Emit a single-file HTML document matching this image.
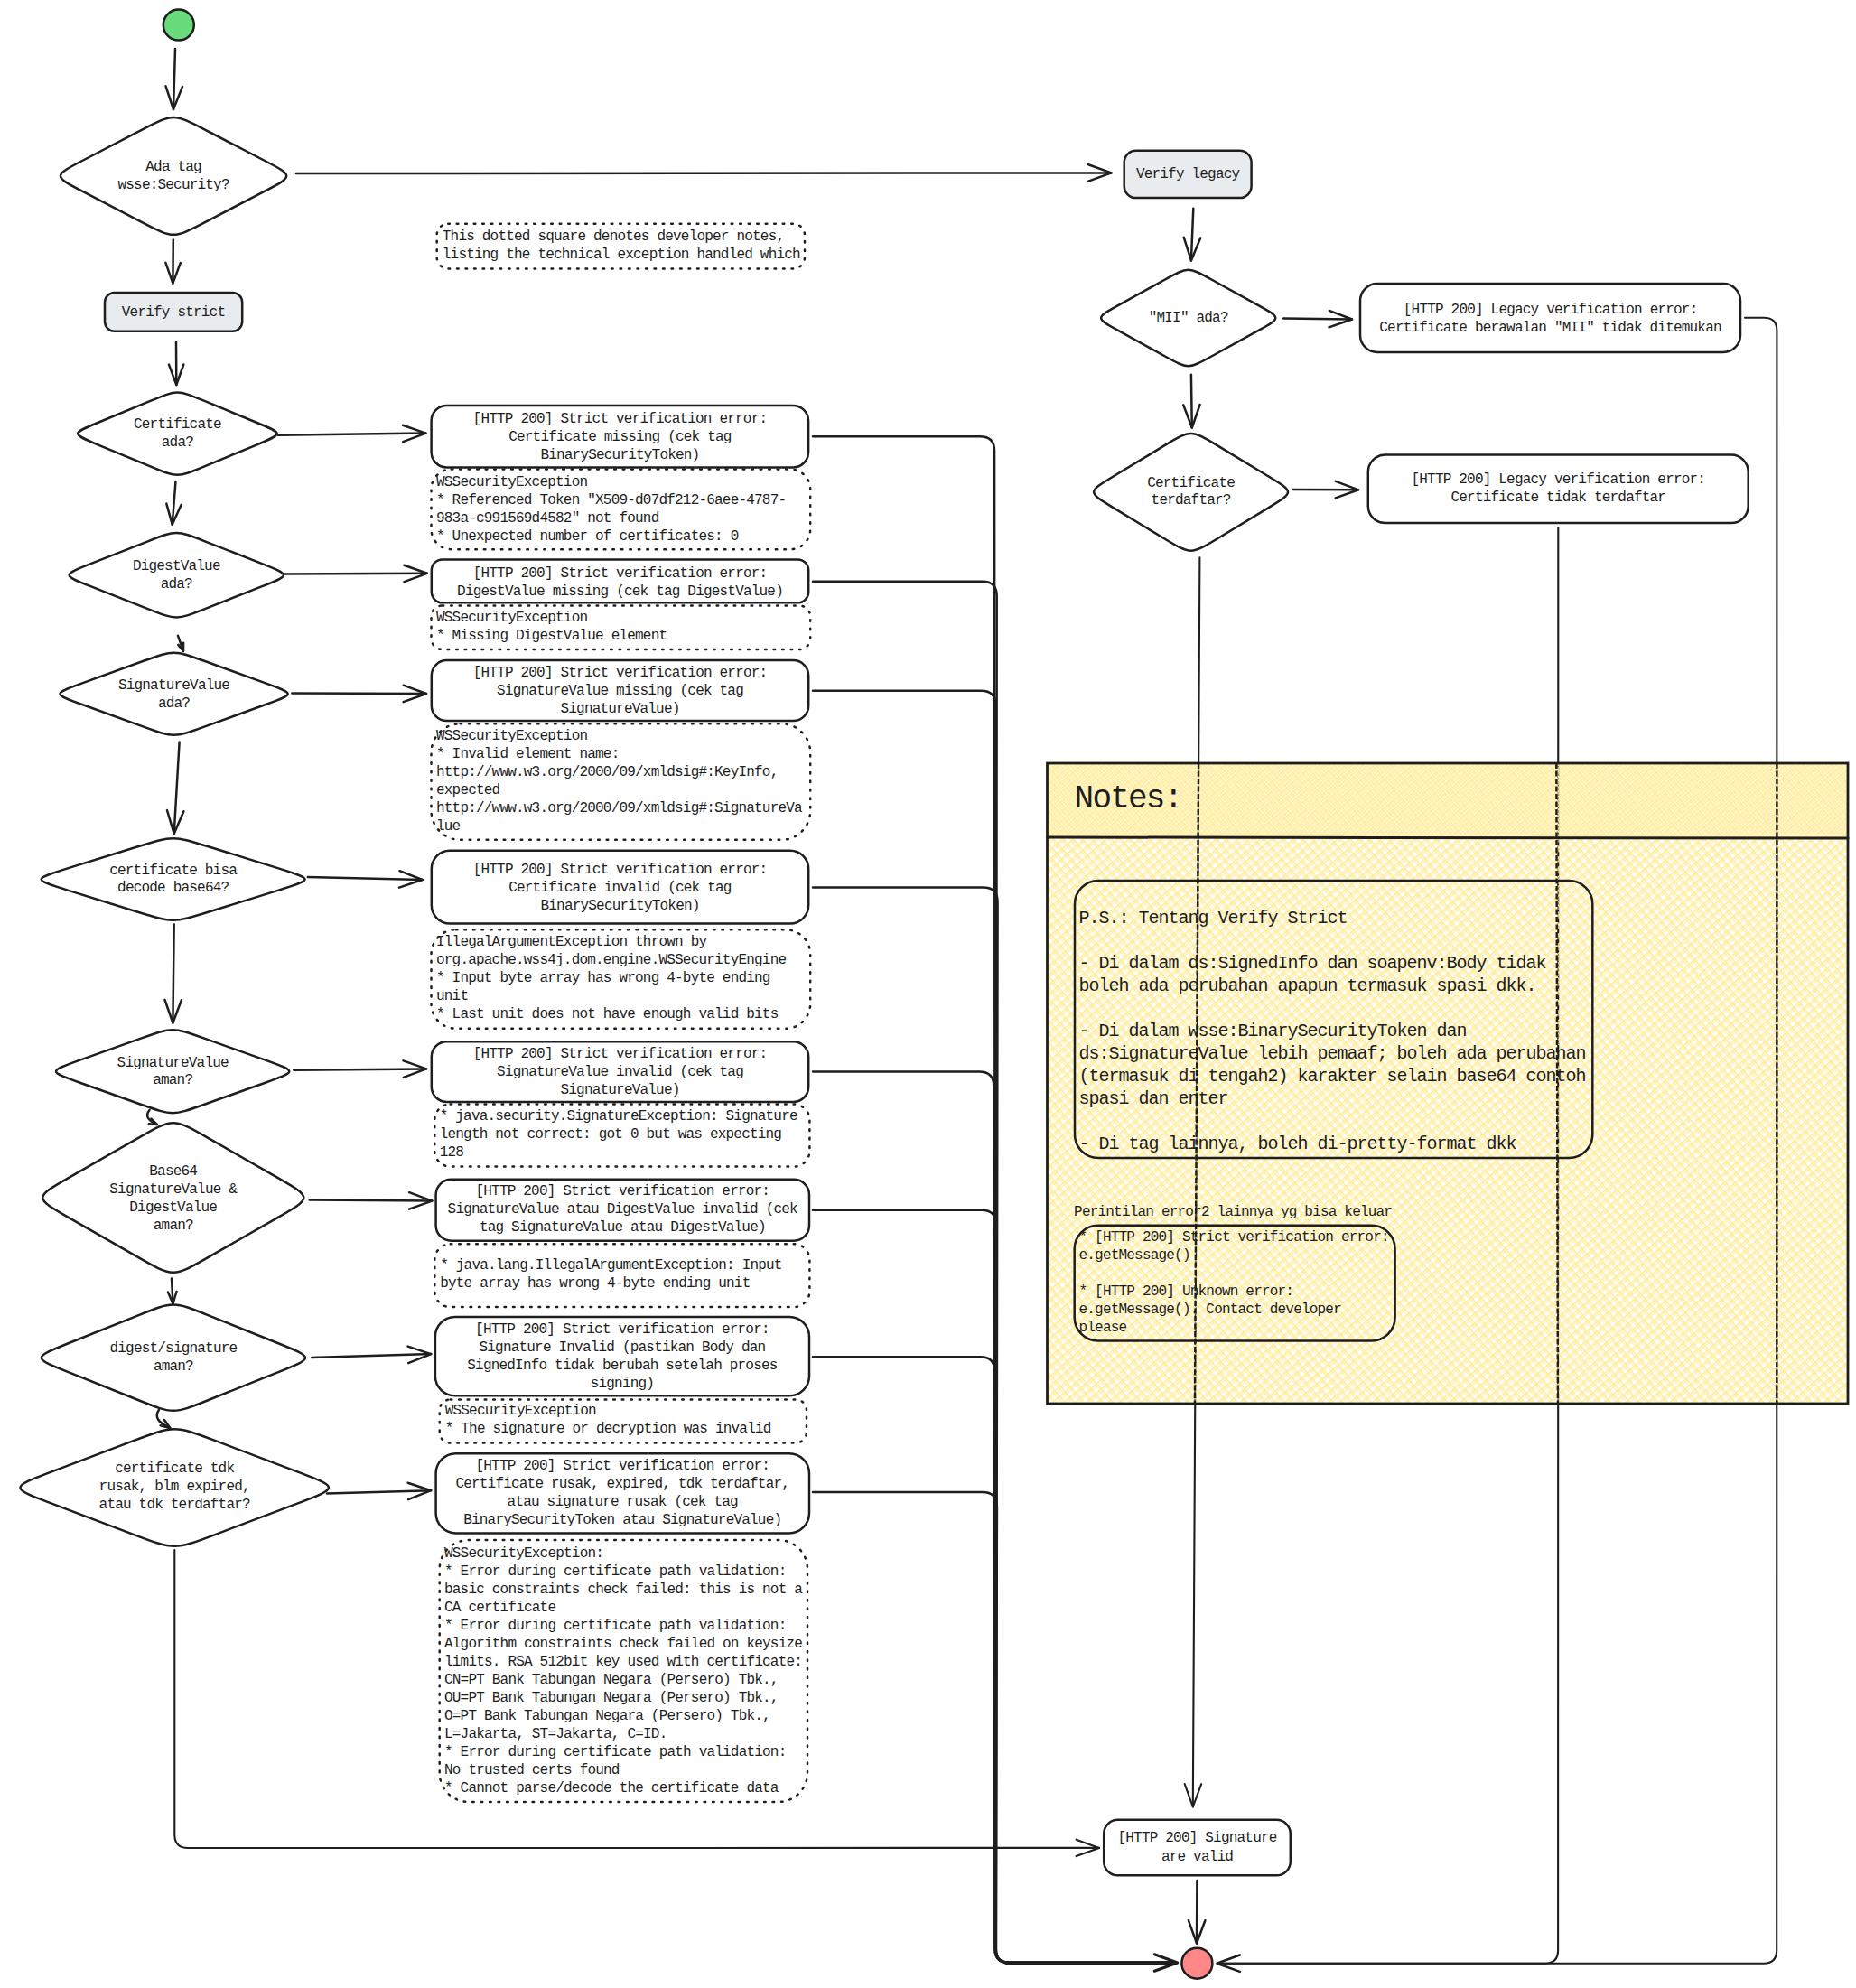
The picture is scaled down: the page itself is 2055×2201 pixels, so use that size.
<!DOCTYPE html>
<html><head><meta charset="utf-8"><style>
html,body{margin:0;padding:0;background:#fff;}
svg{display:block;}
text{font-family:"Liberation Mono", monospace;fill:#1e1e1e;white-space:pre;}
</style></head><body>
<svg width="2055" height="2201" viewBox="0 0 2055 2201">
<rect x="0" y="0" width="2055" height="2201" fill="#ffffff"/>
<defs>
<pattern id="hA" patternUnits="userSpaceOnUse" width="8" height="8" patternTransform="rotate(-41)"><rect x="0" y="0" width="8" height="1.5" fill="#ffec99"/><rect x="0" y="2.6" width="8" height="1.0" fill="#ffec99"/></pattern>
<pattern id="hB" patternUnits="userSpaceOnUse" width="8" height="8" patternTransform="rotate(49)"><rect x="0" y="0" width="8" height="1.5" fill="#ffec99"/><rect x="0" y="2.6" width="8" height="1.0" fill="#ffec99"/></pattern>
<pattern id="hC" patternUnits="userSpaceOnUse" width="8" height="8" patternTransform="rotate(-41) translate(0 5)"><rect x="0" y="0" width="8" height="1.3" fill="#ffec99"/></pattern>
<pattern id="hD" patternUnits="userSpaceOnUse" width="8" height="8" patternTransform="rotate(49) translate(0 5)"><rect x="0" y="0" width="8" height="1.3" fill="#ffec99"/></pattern>
</defs>
<path d="M1328.4 617.4 L1320.8 2000.5" fill="none" stroke="#1e1e1e" stroke-width="2.1" stroke-linecap="round" stroke-linejoin="round" />
<path d="M1330.2 1975.2 L1320.8 2000.5 L1311.7 1975.1" fill="none" stroke="#1e1e1e" stroke-width="2.1" stroke-linecap="round" stroke-linejoin="round" />
<path d="M1932 351.8 L1953 351.8 Q1967.4 351.8 1967.4 366 L1967.2 2159 Q1967.2 2173.7 1953 2173.7 L1348 2173.7" fill="none" stroke="#1e1e1e" stroke-width="2.1" stroke-linecap="round" stroke-linejoin="round" />
<path d="M1725.3 584 L1725.1 2159 Q1725.1 2173.7 1711 2173.7 L1348 2173.7" fill="none" stroke="#1e1e1e" stroke-width="2.1" stroke-linecap="round" stroke-linejoin="round" />
<path d="M1372.8 2182.9 L1347.4 2173.7 L1372.8 2164.5" fill="none" stroke="#1e1e1e" stroke-width="2.5" stroke-linecap="round" stroke-linejoin="round" />
<rect x="1159.5" y="845" width="886.5" height="709" fill="url(#hA)"/>
<rect x="1159.5" y="845" width="886.5" height="709" fill="url(#hB)"/>
<rect x="1159.5" y="845" width="886.5" height="82" fill="url(#hC)"/>
<rect x="1159.5" y="845" width="886.5" height="82" fill="url(#hD)"/>
<path d="M1327.1 845 L1322.9 1554" stroke="#1e1e1e" stroke-width="2.4" stroke-dasharray="6 2.5" fill="none"/>
<path d="M1723.3 845 L1724.9 1554" stroke="#1e1e1e" stroke-width="2.4" stroke-dasharray="6 2.5" fill="none"/>
<path d="M1967.4 845 L1967.3 1554" stroke="#1e1e1e" stroke-width="2.4" stroke-dasharray="6 2.5" fill="none"/>
<rect x="1159.5" y="845" width="886.5" height="709" fill="none" stroke="#1e1e1e" stroke-width="2.8"/>
<path d="M1159.5 927 L2046 928" fill="none" stroke="#1e1e1e" stroke-width="3" stroke-linecap="round" stroke-linejoin="round" />
<text x="1189.6" y="894.4" font-size="36" letter-spacing="-1.80">Notes:</text>
<rect x="1190.0" y="975.1" width="573.3" height="306.9" rx="26.0" fill="none" stroke="#1e1e1e" stroke-width="2.5" />
<text x="1194.5" y="1021.5" font-size="20" letter-spacing="-1.00">P.S.: Tentang Verify Strict</text>
<text x="1194.5" y="1071.5" font-size="20" letter-spacing="-1.00">- Di dalam ds:SignedInfo dan soapenv:Body tidak</text>
<text x="1194.5" y="1096.5" font-size="20" letter-spacing="-1.00">boleh ada perubahan apapun termasuk spasi dkk.</text>
<text x="1194.5" y="1146.5" font-size="20" letter-spacing="-1.00">- Di dalam wsse:BinarySecurityToken dan</text>
<text x="1194.5" y="1171.5" font-size="20" letter-spacing="-1.00">ds:SignatureValue lebih pemaaf; boleh ada perubahan</text>
<text x="1194.5" y="1196.5" font-size="20" letter-spacing="-1.00">(termasuk di tengah2) karakter selain base64 contoh</text>
<text x="1194.5" y="1221.5" font-size="20" letter-spacing="-1.00">spasi dan enter</text>
<text x="1194.5" y="1271.5" font-size="20" letter-spacing="-1.00">- Di tag lainnya, boleh di-pretty-format dkk</text>
<text x="1189.1" y="1345.7" font-size="16" letter-spacing="-0.80">Perintilan error2 lainnya yg bisa keluar</text>
<rect x="1189.7" y="1356.8" width="354.9" height="127.7" rx="26.0" fill="none" stroke="#1e1e1e" stroke-width="2.5" />
<text x="1194.5" y="1374.4" font-size="16" letter-spacing="-0.80">* [HTTP 200] Strict verification error:</text>
<text x="1194.5" y="1394.4" font-size="16" letter-spacing="-0.80">e.getMessage()</text>
<text x="1194.5" y="1434.4" font-size="16" letter-spacing="-0.80">* [HTTP 200] Unknown error:</text>
<text x="1194.5" y="1454.4" font-size="16" letter-spacing="-0.80">e.getMessage(). Contact developer</text>
<text x="1194.5" y="1474.4" font-size="16" letter-spacing="-0.80">please</text>
<circle cx="197.8" cy="27.6" r="17" fill="#69db7c" stroke="#1e1e1e" stroke-width="2.5"/>
<circle cx="1325.4" cy="2173.7" r="17" fill="#ff8787" stroke="#1e1e1e" stroke-width="2.5"/>
<path d="M194.0 54.0 L192.0 121.0" fill="none" stroke="#1e1e1e" stroke-width="2.5" stroke-linecap="round" stroke-linejoin="round" />
<path d="M202.0 95.9 L192.0 121.0 L183.5 95.4" fill="none" stroke="#1e1e1e" stroke-width="2.5" stroke-linecap="round" stroke-linejoin="round" />
<path d="M327.9 192.0 L1230.5 191.4" fill="none" stroke="#1e1e1e" stroke-width="2.5" stroke-linecap="round" stroke-linejoin="round" />
<path d="M1205.1 182.2 L1230.5 191.4 L1205.1 200.7" fill="none" stroke="#1e1e1e" stroke-width="2.5" stroke-linecap="round" stroke-linejoin="round" />
<path d="M191.8 265.5 L191.4 313.6" fill="none" stroke="#1e1e1e" stroke-width="2.5" stroke-linecap="round" stroke-linejoin="round" />
<path d="M199.8 291.1 L191.4 313.6 L183.4 290.9" fill="none" stroke="#1e1e1e" stroke-width="2.5" stroke-linecap="round" stroke-linejoin="round" />
<path d="M195.0 378.2 L195.3 426.0" fill="none" stroke="#1e1e1e" stroke-width="2.5" stroke-linecap="round" stroke-linejoin="round" />
<path d="M203.3 403.5 L195.3 426.0 L187.0 403.6" fill="none" stroke="#1e1e1e" stroke-width="2.5" stroke-linecap="round" stroke-linejoin="round" />
<path d="M308.0 481.8 L471.4 479.6" fill="none" stroke="#1e1e1e" stroke-width="2.5" stroke-linecap="round" stroke-linejoin="round" />
<path d="M445.9 470.7 L471.4 479.6 L446.2 489.2" fill="none" stroke="#1e1e1e" stroke-width="2.5" stroke-linecap="round" stroke-linejoin="round" />
<path d="M194.5 533.0 L190.7 580.7" fill="none" stroke="#1e1e1e" stroke-width="2.5" stroke-linecap="round" stroke-linejoin="round" />
<path d="M200.6 558.9 L190.7 580.7 L184.3 557.6" fill="none" stroke="#1e1e1e" stroke-width="2.5" stroke-linecap="round" stroke-linejoin="round" />
<path d="M315.0 635.4 L472.8 634.8" fill="none" stroke="#1e1e1e" stroke-width="2.5" stroke-linecap="round" stroke-linejoin="round" />
<path d="M447.4 625.7 L472.8 634.8 L447.5 644.1" fill="none" stroke="#1e1e1e" stroke-width="2.5" stroke-linecap="round" stroke-linejoin="round" />
<path d="M197.0 703.8 L203.0 720.9" fill="none" stroke="#1e1e1e" stroke-width="2.5" stroke-linecap="round" stroke-linejoin="round" />
<path d="M203.1 711.8 L203.0 720.9 L197.3 713.9" fill="none" stroke="#1e1e1e" stroke-width="2.5" stroke-linecap="round" stroke-linejoin="round" />
<path d="M323.3 767.4 L472.0 768.0" fill="none" stroke="#1e1e1e" stroke-width="2.5" stroke-linecap="round" stroke-linejoin="round" />
<path d="M446.7 758.7 L472.0 768.0 L446.6 777.1" fill="none" stroke="#1e1e1e" stroke-width="2.5" stroke-linecap="round" stroke-linejoin="round" />
<path d="M198.6 821.5 L192.7 923.0" fill="none" stroke="#1e1e1e" stroke-width="2.5" stroke-linecap="round" stroke-linejoin="round" />
<path d="M203.4 898.2 L192.7 923.0 L185.0 897.1" fill="none" stroke="#1e1e1e" stroke-width="2.5" stroke-linecap="round" stroke-linejoin="round" />
<path d="M340.8 971.0 L467.6 974.0" fill="none" stroke="#1e1e1e" stroke-width="2.5" stroke-linecap="round" stroke-linejoin="round" />
<path d="M442.5 964.2 L467.6 974.0 L442.0 982.6" fill="none" stroke="#1e1e1e" stroke-width="2.5" stroke-linecap="round" stroke-linejoin="round" />
<path d="M192.7 1023.4 L191.4 1132.5" fill="none" stroke="#1e1e1e" stroke-width="2.5" stroke-linecap="round" stroke-linejoin="round" />
<path d="M200.9 1107.2 L191.4 1132.5 L182.5 1107.0" fill="none" stroke="#1e1e1e" stroke-width="2.5" stroke-linecap="round" stroke-linejoin="round" />
<path d="M325.3 1184.7 L472.0 1183.4" fill="none" stroke="#1e1e1e" stroke-width="2.5" stroke-linecap="round" stroke-linejoin="round" />
<path d="M446.5 1174.4 L472.0 1183.4 L446.7 1192.9" fill="none" stroke="#1e1e1e" stroke-width="2.5" stroke-linecap="round" stroke-linejoin="round" />
<path d="M165.5 1229 Q158 1238 173.8 1245" fill="none" stroke="#1e1e1e" stroke-width="2.5" stroke-linecap="round" stroke-linejoin="round" />
<path d="M167.4 1238.7 L173.8 1245.0 L164.8 1244.3" fill="none" stroke="#1e1e1e" stroke-width="2.5" stroke-linecap="round" stroke-linejoin="round" />
<path d="M342.7 1328.5 L478.4 1329.6" fill="none" stroke="#1e1e1e" stroke-width="2.5" stroke-linecap="round" stroke-linejoin="round" />
<path d="M453.1 1320.2 L478.4 1329.6 L453.0 1338.6" fill="none" stroke="#1e1e1e" stroke-width="2.5" stroke-linecap="round" stroke-linejoin="round" />
<path d="M190.0 1415.6 L191.4 1443.3" fill="none" stroke="#1e1e1e" stroke-width="2.5" stroke-linecap="round" stroke-linejoin="round" />
<path d="M195.5 1430.0 L191.4 1443.3 L186.0 1430.5" fill="none" stroke="#1e1e1e" stroke-width="2.5" stroke-linecap="round" stroke-linejoin="round" />
<path d="M345.3 1503.0 L477.2 1499.1" fill="none" stroke="#1e1e1e" stroke-width="2.5" stroke-linecap="round" stroke-linejoin="round" />
<path d="M451.6 1490.6 L477.2 1499.1 L452.1 1509.1" fill="none" stroke="#1e1e1e" stroke-width="2.5" stroke-linecap="round" stroke-linejoin="round" />
<path d="M175.9 1561 Q168 1572 188.3 1581" fill="none" stroke="#1e1e1e" stroke-width="2.5" stroke-linecap="round" stroke-linejoin="round" />
<path d="M181.9 1572.1 L188.3 1581.0 L177.6 1578.3" fill="none" stroke="#1e1e1e" stroke-width="2.5" stroke-linecap="round" stroke-linejoin="round" />
<path d="M362.0 1653.5 L477.2 1650.2" fill="none" stroke="#1e1e1e" stroke-width="2.5" stroke-linecap="round" stroke-linejoin="round" />
<path d="M451.6 1641.7 L477.2 1650.2 L452.1 1660.2" fill="none" stroke="#1e1e1e" stroke-width="2.5" stroke-linecap="round" stroke-linejoin="round" />
<path d="M193.3 1716 L193.3 2031 Q193.3 2046 208 2046 L1217 2045.9" fill="none" stroke="#1e1e1e" stroke-width="2.1" stroke-linecap="round" stroke-linejoin="round" />
<path d="M1191.6 2036.7 L1217.0 2045.9 L1191.6 2055.1" fill="none" stroke="#1e1e1e" stroke-width="2.1" stroke-linecap="round" stroke-linejoin="round" />
<path d="M1321.3 230.8 L1318.9 288.4" fill="none" stroke="#1e1e1e" stroke-width="2.5" stroke-linecap="round" stroke-linejoin="round" />
<path d="M1329.2 263.4 L1318.9 288.4 L1310.7 262.7" fill="none" stroke="#1e1e1e" stroke-width="2.5" stroke-linecap="round" stroke-linejoin="round" />
<path d="M1421.2 352.5 L1497.0 353.5" fill="none" stroke="#1e1e1e" stroke-width="2.5" stroke-linecap="round" stroke-linejoin="round" />
<path d="M1471.8 343.9 L1497.0 353.5 L1471.5 362.4" fill="none" stroke="#1e1e1e" stroke-width="2.5" stroke-linecap="round" stroke-linejoin="round" />
<path d="M1318.9 414.8 L1319.8 473.5" fill="none" stroke="#1e1e1e" stroke-width="2.5" stroke-linecap="round" stroke-linejoin="round" />
<path d="M1328.6 448.0 L1319.8 473.5 L1310.2 448.3" fill="none" stroke="#1e1e1e" stroke-width="2.5" stroke-linecap="round" stroke-linejoin="round" />
<path d="M1431.8 541.9 L1504.1 542.3" fill="none" stroke="#1e1e1e" stroke-width="2.5" stroke-linecap="round" stroke-linejoin="round" />
<path d="M1478.8 532.9 L1504.1 542.3 L1478.7 551.4" fill="none" stroke="#1e1e1e" stroke-width="2.5" stroke-linecap="round" stroke-linejoin="round" />
<path d="M1325.4 2081.9 L1325.0 2151.5" fill="none" stroke="#1e1e1e" stroke-width="2.5" stroke-linecap="round" stroke-linejoin="round" />
<path d="M1334.4 2126.2 L1325.0 2151.5 L1315.9 2126.1" fill="none" stroke="#1e1e1e" stroke-width="2.5" stroke-linecap="round" stroke-linejoin="round" />
<path d="M900 483.3 L1085.1 483.3 Q1101.1 483.3 1101.1 499.3 L1101.7 2158 Q1101.7 2172.6 1116.7 2172.6 L1302 2172.6" fill="none" stroke="#1e1e1e" stroke-width="2.5" stroke-linecap="round" stroke-linejoin="round" />
<path d="M900 643.7 L1087.7 643.7 Q1103.7 643.7 1103.7 659.7 L1102.7 2158 Q1102.7 2173.4 1117.7 2173.4 L1302 2173.4" fill="none" stroke="#1e1e1e" stroke-width="2.5" stroke-linecap="round" stroke-linejoin="round" />
<path d="M900 764.8 L1086.4 764.8 Q1102.4 764.8 1102.4 780.8 L1102.2 2158 Q1102.2 2173.0 1117.2 2173.0 L1302 2173.0" fill="none" stroke="#1e1e1e" stroke-width="2.5" stroke-linecap="round" stroke-linejoin="round" />
<path d="M900 982.5 L1088.6 982.5 Q1104.6 982.5 1104.6 998.5 L1103.0 2158 Q1103.0 2173.7 1118.0 2173.7 L1302 2173.7" fill="none" stroke="#1e1e1e" stroke-width="2.5" stroke-linecap="round" stroke-linejoin="round" />
<path d="M900 1186.6 L1084.3 1186.6 Q1100.3 1186.6 1100.3 1202.6 L1101.5 2158 Q1101.5 2172.4 1116.5 2172.4 L1302 2172.4" fill="none" stroke="#1e1e1e" stroke-width="2.5" stroke-linecap="round" stroke-linejoin="round" />
<path d="M900 1339.7 L1086.9 1339.7 Q1102.9 1339.7 1102.9 1355.7 L1102.4 2158 Q1102.4 2173.2 1117.4 2173.2 L1302 2173.2" fill="none" stroke="#1e1e1e" stroke-width="2.5" stroke-linecap="round" stroke-linejoin="round" />
<path d="M900 1502.2 L1085.4 1502.2 Q1101.4 1502.2 1101.4 1518.2 L1101.9 2158 Q1101.9 2172.7 1116.9 2172.7 L1302 2172.7" fill="none" stroke="#1e1e1e" stroke-width="2.5" stroke-linecap="round" stroke-linejoin="round" />
<path d="M900 1652.1 L1087.9 1652.1 Q1103.9 1652.1 1103.9 1668.1 L1102.7 2158 Q1102.7 2173.4 1117.7 2173.4 L1302 2173.4" fill="none" stroke="#1e1e1e" stroke-width="2.5" stroke-linecap="round" stroke-linejoin="round" />
<path d="M1278.3 2163.8 L1303.7 2173.0 L1278.3 2182.2" fill="none" stroke="#1e1e1e" stroke-width="3.2" stroke-linecap="round" stroke-linejoin="round" />
<path d="M225.5 142.9 L292.2 177.5 C325.6 194.8 325.6 194.8 292.2 212.2 L225.5 246.8 C192.1 264.1 192.1 264.1 158.7 246.8 L92.0 212.2 C58.6 194.8 58.6 194.8 92.0 177.5 L158.7 142.9 C192.1 125.6 192.1 125.6 225.5 142.9 Z" fill="none" stroke="#1e1e1e" stroke-width="2.5" stroke-linejoin="round"/>
<text x="161.3" y="189.0" font-size="16" letter-spacing="-0.80">Ada tag</text>
<text x="130.5" y="209.0" font-size="16" letter-spacing="-0.80">wsse:Security?</text>
<path d="M225.8 443.7 L284.6 468.0 C314.0 480.1 314.0 480.1 284.6 492.3 L225.8 516.6 C196.4 528.8 196.4 528.8 167.0 516.6 L108.2 492.3 C78.8 480.1 78.8 480.1 108.2 468.0 L167.0 443.7 C196.4 431.5 196.4 431.5 225.8 443.7 Z" fill="none" stroke="#1e1e1e" stroke-width="2.5" stroke-linejoin="round"/>
<text x="148.0" y="473.7" font-size="16" letter-spacing="-0.80">Certificate</text>
<text x="178.8" y="493.9" font-size="16" letter-spacing="-0.80">ada?</text>
<path d="M226.9 599.3 L290.2 624.2 C321.9 636.7 321.9 636.7 290.2 649.2 L226.9 674.1 C195.3 686.6 195.3 686.6 163.7 674.1 L100.4 649.2 C68.7 636.7 68.7 636.7 100.4 624.2 L163.7 599.3 C195.3 586.8 195.3 586.8 226.9 599.3 Z" fill="none" stroke="#1e1e1e" stroke-width="2.5" stroke-linejoin="round"/>
<text x="146.9" y="630.8" font-size="16" letter-spacing="-0.80">DigestValue</text>
<text x="177.7" y="651.0" font-size="16" letter-spacing="-0.80">ada?</text>
<path d="M226.2 731.8 L293.4 756.1 C327.1 768.2 327.1 768.2 293.4 780.3 L226.2 804.6 C192.5 816.8 192.5 816.8 158.9 804.6 L91.7 780.3 C58.0 768.2 58.0 768.2 91.7 756.1 L158.9 731.8 C192.5 719.6 192.5 719.6 226.2 731.8 Z" fill="none" stroke="#1e1e1e" stroke-width="2.5" stroke-linejoin="round"/>
<text x="130.9" y="762.8" font-size="16" letter-spacing="-0.80">SignatureValue</text>
<text x="174.9" y="782.7" font-size="16" letter-spacing="-0.80">ada?</text>
<path d="M230.6 937.3 L308.4 961.4 C347.3 973.5 347.3 973.5 308.4 985.6 L230.6 1009.7 C191.7 1021.8 191.7 1021.8 152.7 1009.7 L74.9 985.6 C36.0 973.5 36.0 973.5 74.9 961.4 L152.7 937.3 C191.7 925.2 191.7 925.2 230.6 937.3 Z" fill="none" stroke="#1e1e1e" stroke-width="2.5" stroke-linejoin="round"/>
<text x="121.2" y="967.6" font-size="16" letter-spacing="-0.80">certificate bisa</text>
<text x="130.1" y="987.2" font-size="16" letter-spacing="-0.80">decode base64?</text>
<path d="M225.6 1149.4 L294.4 1173.9 C328.9 1186.2 328.9 1186.2 294.4 1198.5 L225.6 1223.0 C191.2 1235.2 191.2 1235.2 156.7 1223.0 L87.9 1198.5 C53.4 1186.2 53.4 1186.2 87.9 1173.9 L156.7 1149.4 C191.2 1137.2 191.2 1137.2 225.6 1149.4 Z" fill="none" stroke="#1e1e1e" stroke-width="2.5" stroke-linejoin="round"/>
<text x="129.6" y="1180.9" font-size="16" letter-spacing="-0.80">SignatureValue</text>
<text x="169.2" y="1200.3" font-size="16" letter-spacing="-0.80">aman?</text>
<path d="M230.3 1259.8 L307.4 1303.9 C345.9 1326.0 345.9 1326.0 307.4 1348.1 L230.3 1392.2 C191.8 1414.3 191.8 1414.3 153.2 1392.2 L76.2 1348.1 C37.6 1326.0 37.6 1326.0 76.2 1303.9 L153.2 1259.8 C191.8 1237.7 191.8 1237.7 230.3 1259.8 Z" fill="none" stroke="#1e1e1e" stroke-width="2.5" stroke-linejoin="round"/>
<text x="165.3" y="1300.6" font-size="16" letter-spacing="-0.80">Base64</text>
<text x="121.3" y="1320.5" font-size="16" letter-spacing="-0.80">SignatureValue &amp;</text>
<text x="143.3" y="1340.7" font-size="16" letter-spacing="-0.80">DigestValue</text>
<text x="169.8" y="1360.5" font-size="16" letter-spacing="-0.80">aman?</text>
<path d="M230.9 1456.3 L308.8 1487.5 C347.8 1503.2 347.8 1503.2 308.8 1518.8 L230.9 1550.0 C191.9 1565.7 191.9 1565.7 152.9 1550.0 L75.0 1518.8 C36.0 1503.2 36.0 1503.2 75.0 1487.5 L152.9 1456.3 C191.9 1440.6 191.9 1440.6 230.9 1456.3 Z" fill="none" stroke="#1e1e1e" stroke-width="2.5" stroke-linejoin="round"/>
<text x="121.5" y="1496.5" font-size="16" letter-spacing="-0.80">digest/signature</text>
<text x="169.9" y="1516.5" font-size="16" letter-spacing="-0.80">aman?</text>
<path d="M238.7 1595.2 L329.8 1629.7 C375.3 1647.0 375.3 1647.0 329.8 1664.3 L238.7 1698.8 C193.2 1716.1 193.2 1716.1 147.7 1698.8 L56.6 1664.3 C11.1 1647.0 11.1 1647.0 56.6 1629.7 L147.7 1595.2 C193.2 1577.9 193.2 1577.9 238.7 1595.2 Z" fill="none" stroke="#1e1e1e" stroke-width="2.5" stroke-linejoin="round"/>
<text x="127.2" y="1630.2" font-size="16" letter-spacing="-0.80">certificate tdk</text>
<text x="109.6" y="1650.2" font-size="16" letter-spacing="-0.80">rusak, blm expired,</text>
<text x="109.6" y="1670.2" font-size="16" letter-spacing="-0.80">atau tdk terdaftar?</text>
<path d="M1341.4 309.5 L1392.9 337.8 C1418.7 352.0 1418.7 352.0 1392.9 366.2 L1341.4 394.5 C1315.7 408.7 1315.7 408.7 1290.0 394.5 L1238.5 366.2 C1212.7 352.0 1212.7 352.0 1238.5 337.8 L1290.0 309.5 C1315.7 295.3 1315.7 295.3 1341.4 309.5 Z" fill="none" stroke="#1e1e1e" stroke-width="2.5" stroke-linejoin="round"/>
<text x="1271.7" y="355.8" font-size="16" letter-spacing="-0.80">"MII" ada?</text>
<path d="M1347.3 492.9 L1404.6 527.5 C1433.2 544.8 1433.2 544.8 1404.6 562.1 L1347.3 596.7 C1318.6 614.0 1318.6 614.0 1289.9 596.7 L1232.6 562.1 C1204.0 544.8 1204.0 544.8 1232.6 527.5 L1289.9 492.9 C1318.6 475.6 1318.6 475.6 1347.3 492.9 Z" fill="none" stroke="#1e1e1e" stroke-width="2.5" stroke-linejoin="round"/>
<text x="1270.2" y="538.7" font-size="16" letter-spacing="-0.80">Certificate</text>
<text x="1274.6" y="558.4" font-size="16" letter-spacing="-0.80">terdaftar?</text>
<rect x="116.0" y="323.9" width="152.2" height="42.9" rx="10.7" fill="#e9ecef" stroke="#1e1e1e" stroke-width="2.5" />
<text x="134.8" y="350.2" font-size="16" letter-spacing="-0.80">Verify strict</text>
<rect x="1244.7" y="166.8" width="140.9" height="52.3" rx="13.1" fill="#e9ecef" stroke="#1e1e1e" stroke-width="2.5" />
<text x="1257.9" y="196.9" font-size="16" letter-spacing="-0.80">Verify legacy</text>
<rect x="477.6" y="448.9" width="417.5" height="68.6" rx="17.1" fill="none" stroke="#1e1e1e" stroke-width="2.5" />
<text x="523.6" y="467.9" font-size="16" letter-spacing="-0.80">[HTTP 200] Strict verification error:</text>
<text x="563.2" y="488.0" font-size="16" letter-spacing="-0.80">Certificate missing (cek tag</text>
<text x="598.4" y="508.0" font-size="16" letter-spacing="-0.80">BinarySecurityToken)</text>
<rect x="477.8" y="619.4" width="417.4" height="47.9" rx="12.0" fill="none" stroke="#1e1e1e" stroke-width="2.5" />
<text x="523.7" y="638.7" font-size="16" letter-spacing="-0.80">[HTTP 200] Strict verification error:</text>
<text x="506.1" y="658.8" font-size="16" letter-spacing="-0.80">DigestValue missing (cek tag DigestValue)</text>
<rect x="477.8" y="731.1" width="417.4" height="67.0" rx="16.8" fill="none" stroke="#1e1e1e" stroke-width="2.5" />
<text x="523.7" y="749.0" font-size="16" letter-spacing="-0.80">[HTTP 200] Strict verification error:</text>
<text x="550.1" y="769.1" font-size="16" letter-spacing="-0.80">SignatureValue missing (cek tag</text>
<text x="620.5" y="789.0" font-size="16" letter-spacing="-0.80">SignatureValue)</text>
<rect x="477.8" y="941.8" width="417.4" height="80.7" rx="20.2" fill="none" stroke="#1e1e1e" stroke-width="2.5" />
<text x="523.7" y="966.7" font-size="16" letter-spacing="-0.80">[HTTP 200] Strict verification error:</text>
<text x="563.2" y="986.8" font-size="16" letter-spacing="-0.80">Certificate invalid (cek tag</text>
<text x="598.5" y="1006.7" font-size="16" letter-spacing="-0.80">BinarySecurityToken)</text>
<rect x="477.8" y="1153.3" width="417.4" height="66.6" rx="16.7" fill="none" stroke="#1e1e1e" stroke-width="2.5" />
<text x="523.7" y="1170.8" font-size="16" letter-spacing="-0.80">[HTTP 200] Strict verification error:</text>
<text x="550.1" y="1191.0" font-size="16" letter-spacing="-0.80">SignatureValue invalid (cek tag</text>
<text x="620.5" y="1210.8" font-size="16" letter-spacing="-0.80">SignatureValue)</text>
<rect x="482.6" y="1305.8" width="413.4" height="67.9" rx="17.0" fill="none" stroke="#1e1e1e" stroke-width="2.5" />
<text x="526.5" y="1323.2" font-size="16" letter-spacing="-0.80">[HTTP 200] Strict verification error:</text>
<text x="495.6" y="1343.3" font-size="16" letter-spacing="-0.80">SignatureValue atau DigestValue invalid (cek</text>
<text x="530.9" y="1363.2" font-size="16" letter-spacing="-0.80">tag SignatureValue atau DigestValue)</text>
<rect x="481.9" y="1458.0" width="414.1" height="87.2" rx="21.8" fill="none" stroke="#1e1e1e" stroke-width="2.5" />
<text x="526.1" y="1476.0" font-size="16" letter-spacing="-0.80">[HTTP 200] Strict verification error:</text>
<text x="530.5" y="1496.1" font-size="16" letter-spacing="-0.80">Signature Invalid (pastikan Body dan</text>
<text x="517.3" y="1516.0" font-size="16" letter-spacing="-0.80">SignedInfo tidak berubah setelah proses</text>
<text x="653.7" y="1536.1" font-size="16" letter-spacing="-0.80">signing)</text>
<rect x="482.6" y="1609.2" width="413.4" height="88.2" rx="22.1" fill="none" stroke="#1e1e1e" stroke-width="2.5" />
<text x="526.5" y="1626.7" font-size="16" letter-spacing="-0.80">[HTTP 200] Strict verification error:</text>
<text x="504.4" y="1646.6" font-size="16" letter-spacing="-0.80">Certificate rusak, expired, tdk terdaftar,</text>
<text x="561.6" y="1666.7" font-size="16" letter-spacing="-0.80">atau signature rusak (cek tag</text>
<text x="513.2" y="1686.6" font-size="16" letter-spacing="-0.80">BinarySecurityToken atau SignatureValue)</text>
<rect x="1506.0" y="314.1" width="421.0" height="75.9" rx="19.0" fill="none" stroke="#1e1e1e" stroke-width="2.5" />
<text x="1553.8" y="346.5" font-size="16" letter-spacing="-0.80">[HTTP 200] Legacy verification error:</text>
<text x="1527.3" y="366.5" font-size="16" letter-spacing="-0.80">Certificate berawalan "MII" tidak ditemukan</text>
<rect x="1514.8" y="503.6" width="420.9" height="75.5" rx="18.9" fill="none" stroke="#1e1e1e" stroke-width="2.5" />
<text x="1562.5" y="534.5" font-size="16" letter-spacing="-0.80">[HTTP 200] Legacy verification error:</text>
<text x="1606.5" y="554.6" font-size="16" letter-spacing="-0.80">Certificate tidak terdaftar</text>
<rect x="1222.2" y="2014.8" width="206.6" height="61.5" rx="15.4" fill="none" stroke="#1e1e1e" stroke-width="2.5" />
<text x="1237.5" y="2039.4" font-size="16" letter-spacing="-0.80">[HTTP 200] Signature</text>
<text x="1285.9" y="2059.5" font-size="16" letter-spacing="-0.80">are valid</text>
<rect x="483.7" y="247.7" width="407.3" height="49.8" rx="12.5" fill="none" stroke="#1e1e1e" stroke-width="2.5" stroke-dasharray="1.6 7.9" stroke-linecap="round"/>
<text x="489.8" y="265.7" font-size="16" letter-spacing="-0.80">This dotted square denotes developer notes,</text>
<text x="489.8" y="285.7" font-size="16" letter-spacing="-0.80">listing the technical exception handled which</text>
<rect x="477.5" y="519.5" width="419.7" height="88.7" rx="22.2" fill="none" stroke="#1e1e1e" stroke-width="2.5" stroke-dasharray="1.6 7.9" stroke-linecap="round"/>
<text x="483.0" y="538.1" font-size="16" letter-spacing="-0.80">WSSecurityException</text>
<text x="483.0" y="558.1" font-size="16" letter-spacing="-0.80">* Referenced Token "X509-d07df212-6aee-4787-</text>
<text x="483.0" y="578.1" font-size="16" letter-spacing="-0.80">983a-c991569d4582" not found</text>
<text x="483.0" y="598.1" font-size="16" letter-spacing="-0.80">* Unexpected number of certificates: 0</text>
<rect x="477.5" y="670.5" width="419.7" height="48.5" rx="12.1" fill="none" stroke="#1e1e1e" stroke-width="2.5" stroke-dasharray="1.6 7.9" stroke-linecap="round"/>
<text x="483.0" y="688.2" font-size="16" letter-spacing="-0.80">WSSecurityException</text>
<text x="483.0" y="708.2" font-size="16" letter-spacing="-0.80">* Missing DigestValue element</text>
<rect x="477.5" y="801.3" width="419.7" height="128.5" rx="32.0" fill="none" stroke="#1e1e1e" stroke-width="2.5" stroke-dasharray="1.6 7.9" stroke-linecap="round"/>
<text x="483.0" y="818.8" font-size="16" letter-spacing="-0.80">WSSecurityException</text>
<text x="483.0" y="838.8" font-size="16" letter-spacing="-0.80">* Invalid element name:</text>
<text x="483.0" y="858.8" font-size="16" letter-spacing="-0.80">http://www.w3.org/2000/09/xmldsig#:KeyInfo,</text>
<text x="483.0" y="878.8" font-size="16" letter-spacing="-0.80">expected</text>
<text x="483.0" y="898.8" font-size="16" letter-spacing="-0.80">http://www.w3.org/2000/09/xmldsig#:SignatureVa</text>
<text x="483.0" y="918.8" font-size="16" letter-spacing="-0.80">lue</text>
<rect x="477.5" y="1029.2" width="419.7" height="109.6" rx="27.4" fill="none" stroke="#1e1e1e" stroke-width="2.5" stroke-dasharray="1.6 7.9" stroke-linecap="round"/>
<text x="483.0" y="1047.4" font-size="16" letter-spacing="-0.80">IllegalArgumentException thrown by</text>
<text x="483.0" y="1067.4" font-size="16" letter-spacing="-0.80">org.apache.wss4j.dom.engine.WSSecurityEngine</text>
<text x="483.0" y="1087.4" font-size="16" letter-spacing="-0.80">* Input byte array has wrong 4-byte ending</text>
<text x="483.0" y="1107.4" font-size="16" letter-spacing="-0.80">unit</text>
<text x="483.0" y="1127.4" font-size="16" letter-spacing="-0.80">* Last unit does not have enough valid bits</text>
<rect x="481.3" y="1222.5" width="415.1" height="69.1" rx="17.3" fill="none" stroke="#1e1e1e" stroke-width="2.5" stroke-dasharray="1.6 7.9" stroke-linecap="round"/>
<text x="486.7" y="1240.2" font-size="16" letter-spacing="-0.80">* java.security.SignatureException: Signature</text>
<text x="486.7" y="1260.2" font-size="16" letter-spacing="-0.80">length not correct: got 0 but was expecting</text>
<text x="486.7" y="1280.2" font-size="16" letter-spacing="-0.80">128</text>
<rect x="481.3" y="1377.3" width="415.1" height="69.8" rx="17.4" fill="none" stroke="#1e1e1e" stroke-width="2.5" stroke-dasharray="1.6 7.9" stroke-linecap="round"/>
<text x="487.2" y="1405.2" font-size="16" letter-spacing="-0.80">* java.lang.IllegalArgumentException: Input</text>
<text x="487.2" y="1425.2" font-size="16" letter-spacing="-0.80">byte array has wrong 4-byte ending unit</text>
<rect x="486.7" y="1549.4" width="406.3" height="48.2" rx="12.0" fill="none" stroke="#1e1e1e" stroke-width="2.5" stroke-dasharray="1.6 7.9" stroke-linecap="round"/>
<text x="492.7" y="1566.4" font-size="16" letter-spacing="-0.80">WSSecurityException</text>
<text x="492.7" y="1586.4" font-size="16" letter-spacing="-0.80">* The signature or decryption was invalid</text>
<rect x="486.7" y="1705.0" width="407.3" height="290.0" rx="32.0" fill="none" stroke="#1e1e1e" stroke-width="2.5" stroke-dasharray="1.6 7.9" stroke-linecap="round"/>
<text x="492.0" y="1723.7" font-size="16" letter-spacing="-0.80">WSSecurityException:</text>
<text x="492.0" y="1743.7" font-size="16" letter-spacing="-0.80">* Error during certificate path validation:</text>
<text x="492.0" y="1763.7" font-size="16" letter-spacing="-0.80">basic constraints check failed: this is not a</text>
<text x="492.0" y="1783.7" font-size="16" letter-spacing="-0.80">CA certificate</text>
<text x="492.0" y="1803.7" font-size="16" letter-spacing="-0.80">* Error during certificate path validation:</text>
<text x="492.0" y="1823.7" font-size="16" letter-spacing="-0.80">Algorithm constraints check failed on keysize</text>
<text x="492.0" y="1843.7" font-size="16" letter-spacing="-0.80">limits. RSA 512bit key used with certificate:</text>
<text x="492.0" y="1863.7" font-size="16" letter-spacing="-0.80">CN=PT Bank Tabungan Negara (Persero) Tbk.,</text>
<text x="492.0" y="1883.7" font-size="16" letter-spacing="-0.80">OU=PT Bank Tabungan Negara (Persero) Tbk.,</text>
<text x="492.0" y="1903.7" font-size="16" letter-spacing="-0.80">O=PT Bank Tabungan Negara (Persero) Tbk.,</text>
<text x="492.0" y="1923.7" font-size="16" letter-spacing="-0.80">L=Jakarta, ST=Jakarta, C=ID.</text>
<text x="492.0" y="1943.7" font-size="16" letter-spacing="-0.80">* Error during certificate path validation:</text>
<text x="492.0" y="1963.7" font-size="16" letter-spacing="-0.80">No trusted certs found</text>
<text x="492.0" y="1983.7" font-size="16" letter-spacing="-0.80">* Cannot parse/decode the certificate data</text>
</svg></body></html>
